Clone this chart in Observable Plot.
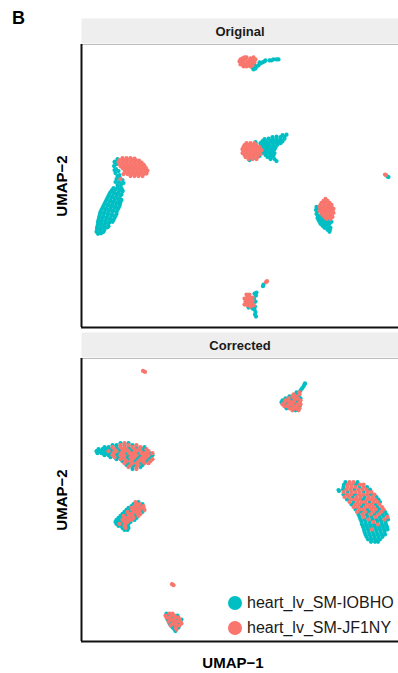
<!DOCTYPE html>
<html>
<head>
<meta charset="utf-8">
<script src="https://cdn.jsdelivr.net/npm/d3@7"></script>
<script src="https://cdn.jsdelivr.net/npm/@observablehq/plot@0.6"></script>
<style>
  html, body { margin: 0; padding: 0; background: #fff; }
  #wrap { position: relative; width: 398px; height: 673px; font-family: "Liberation Sans", Arial, Helvetica, sans-serif; }
  #tag { position: absolute; left: 12px; top: 8px; font-size: 18px; font-weight: bold; color: #000; }
  #legend { position: absolute; left: 228px; top: 590px; }
  .li { display: flex; align-items: center; height: 25.5px; font-size: 16px; color: #1a1a1a; }
  .sw { width: 14px; height: 14px; border-radius: 50%; margin-right: 5px; }
</style>
</head>
<body>
<div id="wrap"><div id="tag">B</div></div>
<script>
// ---- categories ----
const panels = ["Original", "Corrected"];
const samples = ["heart_lv_SM-IOBHO", "heart_lv_SM-JF1NY"];
const colors = ["#00BFC4", "#F8766D"];
const axisTitles = { x: "UMAP\u22121", y: "UMAP\u22122" };

// ---- UMAP coordinates (UMAP-1, UMAP-2) ----
// Original panel, sample heart_lv_SM-IOBHO
const origIOBHO = [
[25.2,26.1],[25.3,25.9],[25.5,26.0],[25.6,26.2],[25.8,26.3],[26.0,26.5],[26.2,26.6],[26.4,26.7],[26.5,26.8],[25.9,26.6],[26.9,26.8],[27.1,26.8],[27.3,26.9],[27.6,26.9],[27.8,26.9],[25.4,26.3],
[28.2,19.3],[28.6,19.35],[27.2,19.1],[27.6,19.15],[28.0,19.1],[28.4,19.15],
[26.4,18.9],[26.8,18.95],[27.2,18.9],[27.6,18.85],[28.0,18.9],[28.4,18.95],
[26.2,18.7],[26.6,18.65],[27.0,18.7],[27.4,18.75],[27.8,18.7],[28.2,18.7],
[26.4,18.5],[26.8,18.45],[27.2,18.5],[27.6,18.55],[28.0,18.5],
[26.1,18.3],[26.5,18.3],[26.9,18.25],[27.3,18.3],[27.7,18.35],
[26.3,18.1],[26.7,18.1],[27.1,18.05],[27.5,18.1],
[26.2,17.9],[26.6,17.9],[27.0,17.85],[27.4,17.9],
[26.4,17.7],[26.8,17.7],[27.2,17.65],
[26.2,17.5],[26.6,17.5],[27.0,17.45],[27.4,17.5],
[26.5,17.3],[26.9,17.3],[27.3,17.25],
[26.7,17.1],[27.1,17.1],[27.0,16.9],[27.4,16.9],[27.6,16.7],
[25.3,17.0],[25.6,17.4],[24.9,16.8],[25.9,17.2],[25.5,18.6],[26.0,18.5],
[11.4,16.6],[11.6,16.4],[11.35,16.2],[11.55,15.9],[11.8,15.7],[11.5,15.5],[11.7,15.2],[11.95,15.0],[11.6,14.9],[11.85,14.6],[12.1,14.4],[11.7,14.3],[12.0,14.2],[11.5,14.6],[12.2,14.8],[11.9,15.3],[11.4,15.8],[12.3,14.5],[11.45,16.65],[11.7,16.9],
[11.3,14.0],[11.7,14.05],[12.1,13.95],
[11.15,13.8],[11.5,13.85],[11.9,13.8],[12.2,13.75],
[11.0,13.6],[11.4,13.55],[11.8,13.6],[12.2,13.65],
[10.9,13.4],[11.3,13.45],[11.7,13.4],[12.1,13.35],
[10.8,13.2],[11.2,13.15],[11.6,13.2],[12.0,13.25],
[10.7,13.0],[11.1,13.05],[11.5,13.0],[11.9,12.95],
[10.6,12.8],[11.0,12.75],[11.4,12.8],[11.8,12.85],[12.1,12.8],
[10.5,12.6],[10.9,12.65],[11.3,12.6],[11.7,12.55],[12.0,12.6],
[10.4,12.4],[10.8,12.35],[11.2,12.4],[11.6,12.45],[11.95,12.4],
[10.3,12.2],[10.7,12.25],[11.1,12.2],[11.5,12.15],[11.9,12.2],
[10.2,12.0],[10.6,11.95],[11.0,12.0],[11.4,12.05],[11.8,12.0],
[10.1,11.8],[10.5,11.85],[10.9,11.8],[11.3,11.75],[11.7,11.8],
[10.0,11.6],[10.4,11.55],[10.8,11.6],[11.2,11.65],[11.6,11.6],
[9.95,11.4],[10.35,11.45],[10.75,11.4],[11.15,11.35],[11.6,11.4],
[9.9,11.2],[10.3,11.15],[10.7,11.2],[11.1,11.25],[11.5,11.2],
[9.85,11.0],[10.2,11.05],[10.6,11.0],[11.0,10.95],[11.4,11.0],
[9.8,10.8],[10.15,10.75],[10.55,10.8],[10.95,10.85],[11.3,10.8],
[9.75,10.6],[10.1,10.65],[10.5,10.6],[10.9,10.55],[11.2,10.6],
[9.75,10.4],[10.1,10.35],[10.45,10.4],[10.8,10.45],
[9.7,10.2],[10.05,10.25],[10.4,10.2],[10.8,10.15],
[9.65,10.0],[10.0,9.95],[10.35,10.0],[10.7,10.05],
[9.65,9.8],[10.0,9.85],[10.4,9.8],
[9.6,9.6],[9.95,9.55],[10.3,9.6],[9.75,9.4],[10.05,9.45],
[31.6,12.1],[31.8,12.0],[31.55,11.8],[31.7,11.6],[32.0,11.9],[31.6,11.4],
[31.8,11.2],[32.1,11.2],[31.7,11.0],[32.0,11.0],[32.3,11.0],
[31.8,10.8],[32.1,10.8],[32.4,10.8],[32.9,10.8],
[31.9,10.6],[32.2,10.6],[32.5,10.6],[32.8,10.6],[33.1,10.6],
[32.0,10.4],[32.3,10.4],[32.6,10.4],[32.9,10.4],
[32.2,10.2],[32.5,10.2],[32.8,10.2],[32.4,10.0],[32.7,10.0],[33.0,10.0],
[32.7,9.8],[32.95,9.8],[32.9,9.6],[32.4,11.7],[33.0,12.0],[32.6,11.2],
[38.7,15.15],[38.8,15.1],
[25.4,3.4],[25.55,3.2],[25.35,2.9],[25.5,2.6],[25.3,2.45],[25.45,2.1],[25.2,1.9],[25.4,1.8],[25.5,1.55],[25.45,1.3],[25.55,1.1],[25.6,3.5],[24.8,2.0],[26.3,4.3],[26.25,4.15]
];
// Original panel, sample heart_lv_SM-JF1NY
const origJF1NY = [
[23.9,26.7],[24.0,26.9],[24.1,26.5],[24.2,27.0],[24.3,26.7],[24.4,26.4],[24.5,26.9],[24.6,27.1],[24.7,26.6],[24.8,26.3],[24.9,26.8],[25.0,27.0],[25.1,26.5],[25.2,26.8],[25.3,27.1],[25.4,26.6],[24.3,26.2],[24.6,26.2],[25.0,26.2],[24.0,26.4],[25.5,26.9],[24.4,27.1],[24.9,26.5],[25.2,26.3],[24.1,26.8],
[24.6,18.5],[25.0,18.5],[25.4,18.5],
[24.4,18.3],[24.8,18.3],[25.2,18.3],[25.6,18.3],
[24.3,18.1],[24.7,18.1],[25.1,18.1],[25.5,18.1],[25.9,18.1],
[24.2,17.9],[24.6,17.9],[25.0,17.9],[25.4,17.9],[25.8,17.9],
[24.3,17.7],[24.7,17.7],[25.1,17.7],[25.5,17.7],[25.9,17.7],
[24.2,17.5],[24.6,17.5],[25.0,17.5],[25.4,17.5],[25.8,17.5],
[24.4,17.3],[24.8,17.3],[25.2,17.3],[25.6,17.3],
[24.5,17.1],[24.9,17.1],[25.3,17.15],[25.7,17.1],
[24.8,16.9],[25.2,16.9],[25.6,16.9],[26.0,17.4],[26.1,17.8],
[12.2,17.0],[12.6,17.0],[13.0,17.0],[13.4,16.95],
[11.9,16.8],[12.3,16.8],[12.7,16.8],[13.1,16.8],[13.5,16.8],[13.85,16.75],
[11.8,16.6],[12.2,16.6],[12.6,16.6],[13.0,16.6],[13.4,16.6],[13.8,16.6],[14.1,16.55],
[11.9,16.4],[12.3,16.4],[12.7,16.4],[13.1,16.4],[13.5,16.4],[13.9,16.4],[14.3,16.35],
[12.0,16.2],[12.4,16.2],[12.8,16.2],[13.2,16.2],[13.6,16.2],[14.0,16.2],[14.4,16.2],
[12.2,16.0],[12.6,16.0],[13.0,16.0],[13.4,16.0],[13.8,16.0],[14.2,16.0],[14.55,16.0],
[12.4,15.8],[12.8,15.8],[13.2,15.8],[13.6,15.8],[14.0,15.8],[14.4,15.8],[14.7,15.75],
[12.5,15.6],[12.9,15.6],[13.3,15.6],[13.7,15.6],[14.1,15.6],[14.5,15.6],
[12.7,15.4],[13.1,15.4],[13.5,15.4],[13.9,15.4],[14.3,15.4],[14.6,15.45],
[13.0,15.2],[13.4,15.2],[13.8,15.2],[14.2,15.2],[12.0,14.9],[12.3,15.4],
[32.5,12.9],[32.3,12.7],[32.7,12.7],
[32.1,12.5],[32.5,12.5],[32.9,12.5],
[32.0,12.3],[32.4,12.3],[32.8,12.3],[33.1,12.3],
[31.9,12.1],[32.3,12.1],[32.7,12.1],[33.1,12.15],
[32.1,11.9],[32.5,11.9],[32.9,11.9],[33.3,11.9],
[31.9,11.7],[32.3,11.7],[32.7,11.7],[33.1,11.7],
[32.1,11.5],[32.5,11.5],[32.9,11.5],[33.3,11.5],
[32.2,11.3],[32.6,11.3],[33.0,11.3],
[32.4,11.1],[32.8,11.1],[33.2,11.1],[32.6,10.9],[33.0,10.9],
[38.45,15.35],[38.55,15.3],
[24.4,2.9],[24.5,2.6],[24.4,2.3],[24.7,3.1],[24.7,2.8],[24.7,2.5],[24.7,2.2],[24.9,3.3],[24.95,3.0],[24.95,2.7],[24.95,2.4],[25.0,2.1],[25.2,3.0],[25.2,2.7],[25.2,2.4],[24.6,3.3],[25.3,2.2],[26.65,4.65],[26.55,4.55]
];
// Corrected panel, sample heart_lv_SM-IOBHO
const corrIOBHO = [
[29.6,25.0],[29.6,24.8],[28.9,24.6],[29.8,24.6],[28.5,24.4],[29.1,24.4],[30.0,24.4],[28.2,24.2],[29.1,24.2],[29.7,24.2],[28.1,24.0],[28.7,24.0],[29.6,24.0],[28.5,23.8],[29.4,23.8],[29.0,23.6],[29.9,23.6],[28.6,23.4],[29.5,23.2],[30.0,25.2],[30.15,25.4],[30.3,25.6],[30.4,25.8],[30.45,25.9],
[12.0,19.9],[12.8,19.9],[11.2,19.7],[11.6,19.7],[12.4,19.7],[13.2,19.7],
[10.4,19.5],[10.8,19.5],[11.6,19.5],[12.8,19.5],[13.6,19.5],[14.4,19.5],
[9.8,19.3],[10.2,19.3],[10.6,19.3],[11.0,19.3],[11.8,19.3],[13.0,19.3],[14.2,19.3],
[9.6,19.1],[10.0,19.1],[10.4,19.1],[11.2,19.1],[12.0,19.1],[13.2,19.1],[14.4,19.1],
[9.7,18.9],[10.1,18.9],[10.5,18.9],[10.9,18.9],[11.7,18.9],[12.5,18.9],[13.7,18.9],[14.9,18.9],
[10.4,18.7],[10.8,18.7],[11.6,18.7],[12.8,18.7],[14.0,18.7],[15.2,18.7],
[11.0,18.5],[11.8,18.5],[12.6,18.5],[13.8,18.5],[15.0,18.5],
[11.6,18.3],[12.8,18.3],[13.6,18.3],[14.8,18.3],
[12.2,18.1],[13.4,18.1],[14.6,18.1],[12.8,17.9],[14.0,17.9],
[12.6,17.7],[13.4,17.7],[14.2,17.7],[13.2,17.5],[14.0,17.5],[13.2,17.3],
[13.8,14.0],[13.3,13.8],[14.2,13.8],[13.1,13.6],[14.0,13.6],[12.8,13.4],[13.7,13.4],
[12.6,13.2],[12.9,13.2],[14.1,13.2],[12.4,13.0],[13.0,13.0],[14.2,13.0],
[12.2,12.8],[12.5,12.8],[13.4,12.8],[12.0,12.6],[12.6,12.6],[13.5,12.6],
[11.8,12.4],[12.1,12.4],[13.0,12.4],[13.6,12.4],[11.6,12.2],[11.9,12.2],[12.5,12.2],[13.4,12.2],
[11.5,12.0],[11.8,12.0],[12.1,12.0],[13.0,12.0],[11.6,11.8],[12.2,11.8],[12.8,11.8],
[11.8,11.6],[12.1,11.6],[12.7,11.6],[12.2,11.4],[12.8,11.4],[12.4,11.2],[12.7,11.2],
[34.5,16.0],[35.7,16.0],[34.35,15.75],[35.55,15.75],
[34.3,15.5],[35.9,15.5],[36.65,15.5],[34.25,15.25],[35.4,15.25],[36.95,15.25],
[34.7,15.0],[36.3,15.0],[34.3,14.75],[35.45,14.75],[37.05,14.75],
[35.2,14.5],[36.4,14.5],[37.6,14.5],[34.65,14.25],[36.25,14.25],[37.8,14.25],
[35.3,14.0],[36.9,14.0],[37.95,14.0],[35.1,13.75],[36.3,13.75],[37.5,13.75],
[36.1,13.5],[37.7,13.5],[35.5,13.25],[36.7,13.25],[37.9,13.25],
[36.05,13.0],[36.85,13.0],[37.65,13.0],[38.45,13.0],
[35.8,12.75],[36.6,12.75],[37.4,12.75],[38.2,12.75],[38.6,12.75],
[35.9,12.5],[36.7,12.5],[37.1,12.5],[37.9,12.5],[38.3,12.5],
[36.0,12.25],[36.4,12.25],[37.2,12.25],[37.6,12.25],[38.0,12.25],[38.75,12.25],
[36.1,12.0],[36.5,12.0],[36.9,12.0],[37.7,12.0],[38.1,12.0],[38.5,12.0],
[36.15,11.75],[36.55,11.75],[36.95,11.75],[37.35,11.75],[38.15,11.75],[38.55,11.75],
[36.25,11.5],[36.65,11.5],[37.05,11.5],[37.45,11.5],[37.85,11.5],[38.25,11.5],[38.65,11.5],
[36.35,11.25],[36.75,11.25],[37.55,11.25],[37.95,11.25],[38.35,11.25],[38.7,11.25],
[36.4,11.0],[36.8,11.0],[37.2,11.0],[37.6,11.0],[38.0,11.0],[38.4,11.0],
[36.5,10.75],[36.9,10.75],[37.3,10.75],[37.7,10.75],[38.1,10.75],[38.45,10.75],
[36.6,10.5],[37.0,10.5],[37.4,10.5],[37.8,10.5],[38.2,10.5],
[36.75,10.25],[37.15,10.25],[37.55,10.25],[37.95,10.25],
[37.05,10.0],[37.45,10.0],[37.75,10.0],[33.8,15.2],[33.85,15.1],
[16.6,2.8],[16.8,2.6],[17.7,2.6],[17.2,2.4],[16.7,2.2],[17.6,2.2],[18.1,2.2],[17.1,2.0],[16.9,1.8],[17.8,1.8],[17.3,1.6],[17.2,1.4],[17.8,1.4],[17.4,1.2],[17.5,1.05]
];
// Corrected panel, sample heart_lv_SM-JF1NY
const corrJF1NY = [
[14.25,27.15],[14.45,27.05],
[29.9,25.0],[29.3,24.8],[29.9,24.8],[29.2,24.6],[29.5,24.6],[28.8,24.4],[29.4,24.4],[29.7,24.4],[28.5,24.2],[28.8,24.2],[29.4,24.2],[30.0,24.2],[28.4,24.0],[29.0,24.0],[29.3,24.0],[29.9,24.0],[28.2,23.8],[28.8,23.8],[29.1,23.8],[29.7,23.8],[30.0,23.8],[28.4,23.6],[28.7,23.6],[29.3,23.6],[29.6,23.6],[28.9,23.4],[29.3,23.4],[29.6,23.4],[29.9,23.4],[29.2,23.2],[29.8,23.2],
[12.4,19.9],[12.0,19.7],[12.8,19.7],[13.6,19.7],
[11.2,19.5],[12.0,19.5],[12.4,19.5],[13.2,19.5],[14.0,19.5],
[11.4,19.3],[12.2,19.3],[12.6,19.3],[13.4,19.3],[13.8,19.3],[14.6,19.3],
[10.8,19.1],[11.6,19.1],[12.4,19.1],[12.8,19.1],[13.6,19.1],[14.0,19.1],[14.8,19.1],
[11.3,18.9],[12.1,18.9],[12.9,18.9],[13.3,18.9],[14.1,18.9],[14.5,18.9],[15.2,18.9],
[11.2,18.7],[12.0,18.7],[12.4,18.7],[13.2,18.7],[13.6,18.7],[14.4,18.7],[14.8,18.7],
[11.4,18.5],[12.2,18.5],[13.0,18.5],[13.4,18.5],[14.2,18.5],[14.6,18.5],
[12.0,18.3],[12.4,18.3],[13.2,18.3],[14.0,18.3],[14.4,18.3],[15.2,18.3],
[12.6,18.1],[13.0,18.1],[13.8,18.1],[14.2,18.1],[15.0,18.1],
[12.4,17.9],[13.2,17.9],[13.6,17.9],[14.4,17.9],[14.8,17.9],
[13.0,17.7],[13.8,17.7],[12.8,17.5],[13.6,17.5],[13.6,17.3],
[13.5,14.0],[13.6,13.8],[13.9,13.8],[13.4,13.6],[13.7,13.6],[14.3,13.6],
[13.1,13.4],[13.4,13.4],[14.0,13.4],[14.3,13.4],[13.2,13.2],[13.5,13.2],[13.8,13.2],[14.4,13.2],
[12.7,13.0],[13.3,13.0],[13.6,13.0],[13.9,13.0],[12.8,12.8],[13.1,12.8],[13.7,12.8],[14.0,12.8],
[12.3,12.6],[12.9,12.6],[13.2,12.6],[13.8,12.6],[12.4,12.4],[12.7,12.4],[13.3,12.4],
[12.2,12.2],[12.8,12.2],[13.1,12.2],[12.4,12.0],[12.7,12.0],[11.9,11.8],[12.5,11.8],[12.4,11.6],[12.5,11.4],
[34.9,16.0],[35.3,16.0],[34.75,15.75],[35.15,15.75],[35.95,15.75],[36.3,15.75],
[34.7,15.5],[35.1,15.5],[35.5,15.5],[36.3,15.5],
[34.6,15.25],[35.0,15.25],[35.8,15.25],[36.2,15.25],[36.6,15.25],
[34.3,15.0],[35.1,15.0],[35.5,15.0],[35.9,15.0],[36.7,15.0],[37.1,15.0],
[34.65,14.75],[35.05,14.75],[35.85,14.75],[36.25,14.75],[36.65,14.75],[37.4,14.75],
[34.4,14.5],[34.8,14.5],[35.6,14.5],[36.0,14.5],[36.8,14.5],[37.2,14.5],
[35.05,14.25],[35.45,14.25],[35.85,14.25],[36.65,14.25],[37.05,14.25],[37.45,14.25],
[34.9,14.0],[35.7,14.0],[36.1,14.0],[36.5,14.0],[37.3,14.0],[37.7,14.0],
[35.5,13.75],[35.9,13.75],[36.7,13.75],[37.1,13.75],[37.9,13.75],
[35.3,13.5],[35.7,13.5],[36.5,13.5],[36.9,13.5],[37.3,13.5],[38.15,13.5],
[35.9,13.25],[36.3,13.25],[37.1,13.25],[37.5,13.25],[38.3,13.25],
[35.65,13.0],[36.45,13.0],[37.25,13.0],[38.05,13.0],
[36.2,12.75],[37.0,12.75],[37.8,12.75],[36.3,12.5],[37.5,12.5],[38.7,12.5],
[36.8,12.25],[38.4,12.25],[37.3,12.0],[37.75,11.75],[37.15,11.25],
[17.15,5.75],[17.3,5.65],
[16.9,2.8],[17.2,2.8],[16.5,2.6],[17.1,2.6],[17.4,2.6],[16.6,2.4],[16.9,2.4],[17.5,2.4],[17.8,2.4],[17.0,2.2],[17.3,2.2],[17.9,2.2],[16.8,2.0],[17.4,2.0],[17.7,2.0],[18.0,2.0],[17.2,1.8],[17.5,1.8],[18.1,1.8],[17.0,1.6],[17.6,1.6],[17.9,1.6],[17.5,1.4],[17.6,1.2]
];

// ---- build table ----
const series = [
  [origIOBHO, panels[0], samples[0]],
  [origJF1NY, panels[0], samples[1]],
  [corrIOBHO, panels[1], samples[0]],
  [corrJF1NY, panels[1], samples[1]]
];
const cells = series.flatMap(([pts, panel, sample]) =>
  pts.map(([x, y]) => ({x, y, panel, sample})));
const strips = panels.map(p => ({panel: p}));
const yTitles = panels.map(p => ({panel: p, t: axisTitles.y}));
const xTitle = [{panel: panels[1], t: axisTitles.x}];

const xDomain = [8.1, 39.8];
const yDomain = [0, 28.4];

const chart = Plot.plot({
  width: 398,
  height: 673,
  marginTop: 43,
  marginBottom: 31,
  marginLeft: 81,
  marginRight: 0,
  style: {fontFamily: '"Liberation Sans", Arial, Helvetica, sans-serif', background: "#fff"},
  x: {domain: xDomain, axis: null},
  y: {domain: yDomain, axis: null},
  fy: {domain: panels, axis: null, paddingInner: 0.0984, paddingOuter: 0},
  color: {domain: samples, range: colors},
  marks: [
    Plot.frame({fill: "#EEEEEE", stroke: "none", insetTop: -26, insetBottom: 284}),
    Plot.ruleY([yDomain[1]], {stroke: "#BDBDBD", strokeWidth: 1}),
    Plot.dot(cells, {x: "x", y: "y", fy: "panel", fill: "sample", r: 2.1}),
    Plot.ruleX([xDomain[0]], {stroke: "#111", strokeWidth: 2}),
    Plot.ruleY([yDomain[0]], {stroke: "#111", strokeWidth: 2}),
    Plot.text(strips, {fy: "panel", text: "panel", frameAnchor: "top", lineAnchor: "middle", dy: -13, fontWeight: "bold", fontSize: 13, fill: "#1a1a1a"}),
    Plot.text(yTitles, {fy: "panel", text: "t", frameAnchor: "left", textAnchor: "middle", lineAnchor: "middle", rotate: -90, dx: -19, fontWeight: "bold", fontSize: 15, fill: "#000"}),
    Plot.text(xTitle, {fy: "panel", text: "t", frameAnchor: "bottom", lineAnchor: "middle", dy: 22, dx: -7, fontWeight: "bold", fontSize: 15, fill: "#000"})
  ]
});

const wrap = document.getElementById("wrap");
wrap.insertBefore(chart, wrap.firstChild);

const legend = document.createElement("div");
legend.id = "legend";
samples.forEach((s, i) => {
  const row = document.createElement("div");
  row.className = "li";
  const sw = document.createElement("span");
  sw.className = "sw";
  sw.style.background = colors[i];
  const lab = document.createElement("span");
  lab.textContent = s;
  row.appendChild(sw);
  row.appendChild(lab);
  legend.appendChild(row);
});
wrap.appendChild(legend);
</script>
</body>
</html>
